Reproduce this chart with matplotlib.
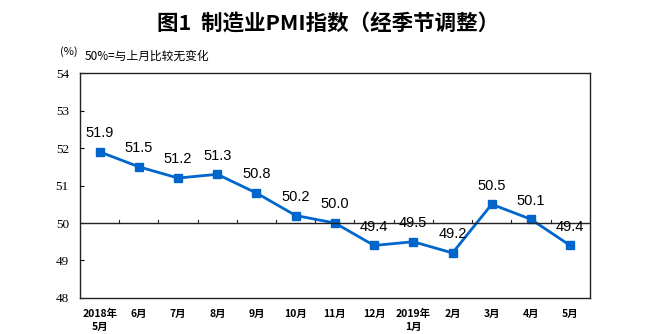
import matplotlib.pyplot as plt

plt.rcParams['font.family'] = ['Noto Sans CJK SC', 'DejaVu Sans']

# data
months = ['2018年\n5月', '6月', '7月', '8月', '9月', '10月', '11月', '12月',
          '2019年\n1月', '2月', '3月', '4月', '5月']
pmi = [51.9, 51.5, 51.2, 51.3, 50.8, 50.2, 50.0, 49.4, 49.5, 49.2, 50.5, 50.1, 49.4]

blue = '#0066CC'

fig = plt.figure(figsize=(6.56, 3.34), dpi=100)
ax = fig.add_axes([0.122, 0.108, 0.777, 0.673])

x = list(range(len(pmi)))
ax.plot(x, pmi, color=blue, lw=2, marker='s', markersize=5.5)

for xi, v in zip(x, pmi):
    ax.annotate('%.1f' % v, (xi, v), xytext=(0, 13.5), textcoords='offset points',
                ha='center', va='center', fontsize=10.5, family='Liberation Sans')

ax.set_xlim(-0.5, len(pmi) - 0.5)
ax.set_ylim(48, 54)
ax.set_yticks([48, 49, 50, 51, 52, 53, 54])
ax.set_yticklabels(['48', '49', '50', '51', '52', '53', '54'], family='Liberation Serif', fontsize=9.5)
ax.tick_params(axis='y', direction='in', length=3, pad=8)

# horizontal line at 50 with small ticks at category boundaries
ax.axhline(50, color='#222222', lw=1)
for b in range(1, len(pmi)):
    ax.plot([b - 0.5, b - 0.5], [50, 50.08], color='#222222', lw=0.8)

ax.set_xticks(x)
ax.set_xticklabels(months, fontsize=7.5, fontweight='bold', linespacing=1.3)
ax.tick_params(axis='x', length=0, pad=8)
for lab in ax.get_xticklabels():
    lab.set_verticalalignment('top')

for s in ax.spines.values():
    s.set_color('#222222')
    s.set_linewidth(1)

fig.text(0.5, 0.932, '图1  制造业PMI指数（经季节调整）', ha='center', va='center',
         fontsize=15.5, fontweight='bold')
fig.text(0.092, 0.845, '(%)', fontsize=8, va='center')
fig.text(0.129, 0.832, '50%=与上月比较无变化', fontsize=8.5, va='center')

fig.savefig('out.png', dpi=100)
